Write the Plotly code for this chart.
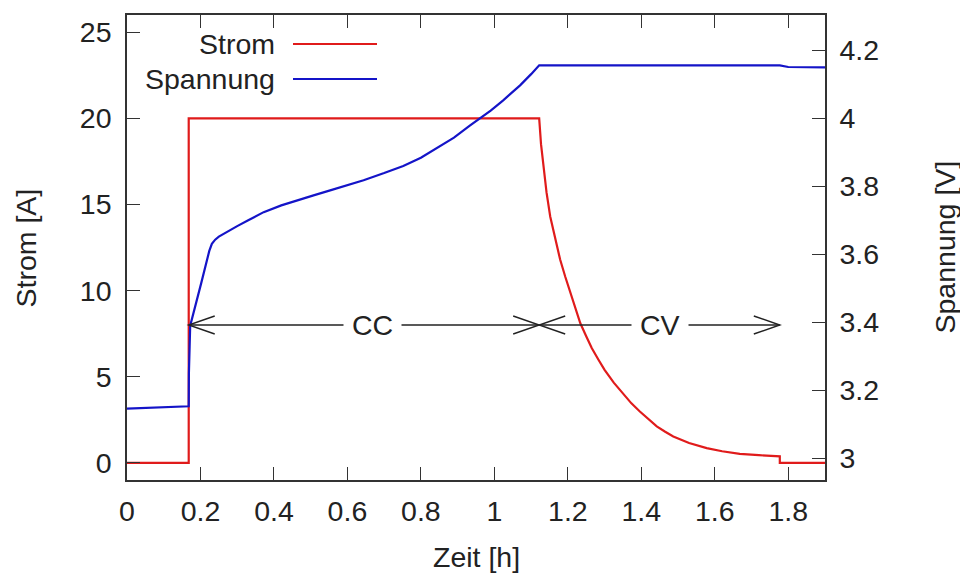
import plotly.graph_objects as go

# ---------------- data ----------------
zeit_strom = [0.0, 0.168, 0.168, 1.122, 1.127, 1.133, 1.142, 1.152, 1.165, 1.179,
              1.193, 1.207, 1.22, 1.234, 1.25, 1.265, 1.283, 1.30, 1.325, 1.35,
              1.373, 1.396, 1.42, 1.442, 1.465, 1.487, 1.53, 1.578, 1.62, 1.668,
              1.72, 1.777, 1.777, 1.9]
strom = [0.0, 0.0, 20.0, 20.0, 18.5, 17.2, 15.7, 14.3, 13.0, 11.8,
         10.8, 9.85, 8.95, 8.1, 7.35, 6.66, 6.0, 5.4, 4.65, 4.0,
         3.45, 2.98, 2.5, 2.11, 1.8, 1.53, 1.15, 0.85, 0.67, 0.52,
         0.44, 0.37, 0.0, 0.0]

zeit_spannung = [0.0, 0.168, 0.1685, 0.170, 0.172, 0.2015, 0.224, 0.231, 0.24, 0.25,
                 0.265, 0.281, 0.30, 0.33, 0.372, 0.42, 0.462, 0.51, 0.553, 0.60,
                 0.644, 0.70, 0.752, 0.80, 0.843, 0.89, 0.934, 0.961, 0.99, 1.024,
                 1.070, 1.10, 1.122, 1.777, 1.80, 1.9]
spannung = [3.146, 3.153, 3.25, 3.32, 3.39, 3.513, 3.61, 3.631, 3.643, 3.652,
            3.662, 3.671, 3.683, 3.70, 3.724, 3.744, 3.759, 3.774, 3.788, 3.803,
            3.818, 3.839, 3.860, 3.884, 3.911, 3.943, 3.979, 3.999, 4.023, 4.053,
            4.097, 4.130, 4.156, 4.156, 4.151, 4.150]

x_ticks = [0, 0.2, 0.4, 0.6, 0.8, 1.0, 1.2, 1.4, 1.6, 1.8]
x_ticklabels = ["0", "0.2", "0.4", "0.6", "0.8", "1", "1.2", "1.4", "1.6", "1.8"]
y1_ticks = [0, 5, 10, 15, 20, 25]
y2_ticks = [3.0, 3.2, 3.4, 3.6, 3.8, 4.0, 4.2]
y2_ticklabels = ["3", "3.2", "3.4", "3.6", "3.8", "4", "4.2"]

series_names = ["Strom", "Spannung"]
phase_labels = ["CC", "CV"]
# phase boundaries (h) and level of the phase arrows (A)
phase_bounds = [0.168, 1.122, 1.777]
phase_label_x = [0.667, 1.45]
arrow_level = 8.0

# ---------------- styling ----------------
RED = "#e01b1b"
BLUE = "#1414c8"
AX = "#333333"
TXT = "#222222"
FONT = "Liberation Sans, Arial, sans-serif"
FS = 28.5

W, H = 960, 578
ML, MR, MT, MB = 127, 135, 15, 98
PW, PH = W - ML - MR, H - MT - MB


def px_x(p):
    return (p - ML) / PW


def px_y(p):
    return (H - MB - p) / PH


fig = go.Figure()
fig.add_trace(go.Scatter(x=zeit_strom, y=strom, mode="lines", name=series_names[0],
                         line=dict(color=RED, width=2.2), yaxis="y", showlegend=False))
fig.add_trace(go.Scatter(x=zeit_spannung, y=spannung, mode="lines", name=series_names[1],
                         line=dict(color=BLUE, width=2.2), yaxis="y2", showlegend=False))

axis_common = dict(ticks="inside", ticklen=13, tickwidth=1.3, tickcolor=AX,
                   showline=True, linecolor=AX, linewidth=1.6, showgrid=False,
                   zeroline=False, tickfont=dict(family=FONT, size=FS, color=TXT))

fig.update_layout(
    width=W, height=H,
    margin=dict(l=ML, r=MR, t=MT, b=MB),
    paper_bgcolor="white", plot_bgcolor="white",
    font=dict(family=FONT, size=FS, color=TXT),
    xaxis=dict(range=[0, 1.9], tickvals=x_ticks, ticktext=x_ticklabels,
               mirror="ticks", ticklabelstandoff=5, **axis_common),
    yaxis=dict(range=[-1, 26], tickvals=y1_ticks, mirror=False,
               ticklabelstandoff=8, **axis_common),
    yaxis2=dict(range=[2.936, 4.304], tickvals=y2_ticks, ticktext=y2_ticklabels,
                overlaying="y", side="right", ticklabelstandoff=7, **axis_common),
)

shapes = []
annotations = []

# phase arrows
for i in range(2):
    x0, x1 = phase_bounds[i], phase_bounds[i + 1]
    shapes.append(dict(type="line", xref="x", yref="y", x0=x0, x1=x1,
                       y0=arrow_level, y1=arrow_level, line=dict(color=TXT, width=1.4)))
    shapes.append(dict(type="path", xref="x", yref="y", xsizemode="pixel", ysizemode="pixel",
                       xanchor=x0, yanchor=arrow_level, path="M 26,9 L 0,0 L 26,-9",
                       line=dict(color=TXT, width=1.4)))
    shapes.append(dict(type="path", xref="x", yref="y", xsizemode="pixel", ysizemode="pixel",
                       xanchor=x1, yanchor=arrow_level, path="M -26,9 L 0,0 L -26,-9",
                       line=dict(color=TXT, width=1.4)))
    annotations.append(dict(x=phase_label_x[i], y=arrow_level, xref="x", yref="y",
                            text=phase_labels[i], showarrow=False, bgcolor="white",
                            borderpad=8, font=dict(family=FONT, size=FS, color=TXT),
                            xanchor="center", yanchor="middle"))

# legend (text left of sample line, gnuplot style)
legend_rows_px = [44, 79]
for name, color, yrow in zip(series_names, [RED, BLUE], legend_rows_px):
    annotations.append(dict(x=px_x(277), y=px_y(yrow), xref="paper", yref="paper",
                            text=name, showarrow=False, xanchor="right", yanchor="middle",
                            font=dict(family=FONT, size=FS, color=TXT)))
    shapes.append(dict(type="line", xref="paper", yref="paper", x0=px_x(293), x1=px_x(377),
                       y0=px_y(yrow), y1=px_y(yrow), line=dict(color=color, width=2.2)))

# axis titles
annotations.append(dict(x=px_x(476), y=px_y(557), xref="paper", yref="paper", text="Zeit [h]",
                        showarrow=False, xanchor="center", yanchor="middle",
                        font=dict(family=FONT, size=FS, color=TXT)))
annotations.append(dict(x=px_x(25), y=0.5, xref="paper", yref="paper", text="Strom [A]",
                        showarrow=False, xanchor="center", yanchor="middle", textangle=-90,
                        font=dict(family=FONT, size=FS, color=TXT)))
annotations.append(dict(x=px_x(944), y=0.5, xref="paper", yref="paper", text="Spannung [V]",
                        showarrow=False, xanchor="center", yanchor="middle", textangle=-90,
                        font=dict(family=FONT, size=FS, color=TXT)))

fig.update_layout(shapes=shapes, annotations=annotations)
fig.write_html("out.html", config={"displayModeBar": False},
               post_script="document.body.style.margin='0';document.body.style.overflow='hidden';")
